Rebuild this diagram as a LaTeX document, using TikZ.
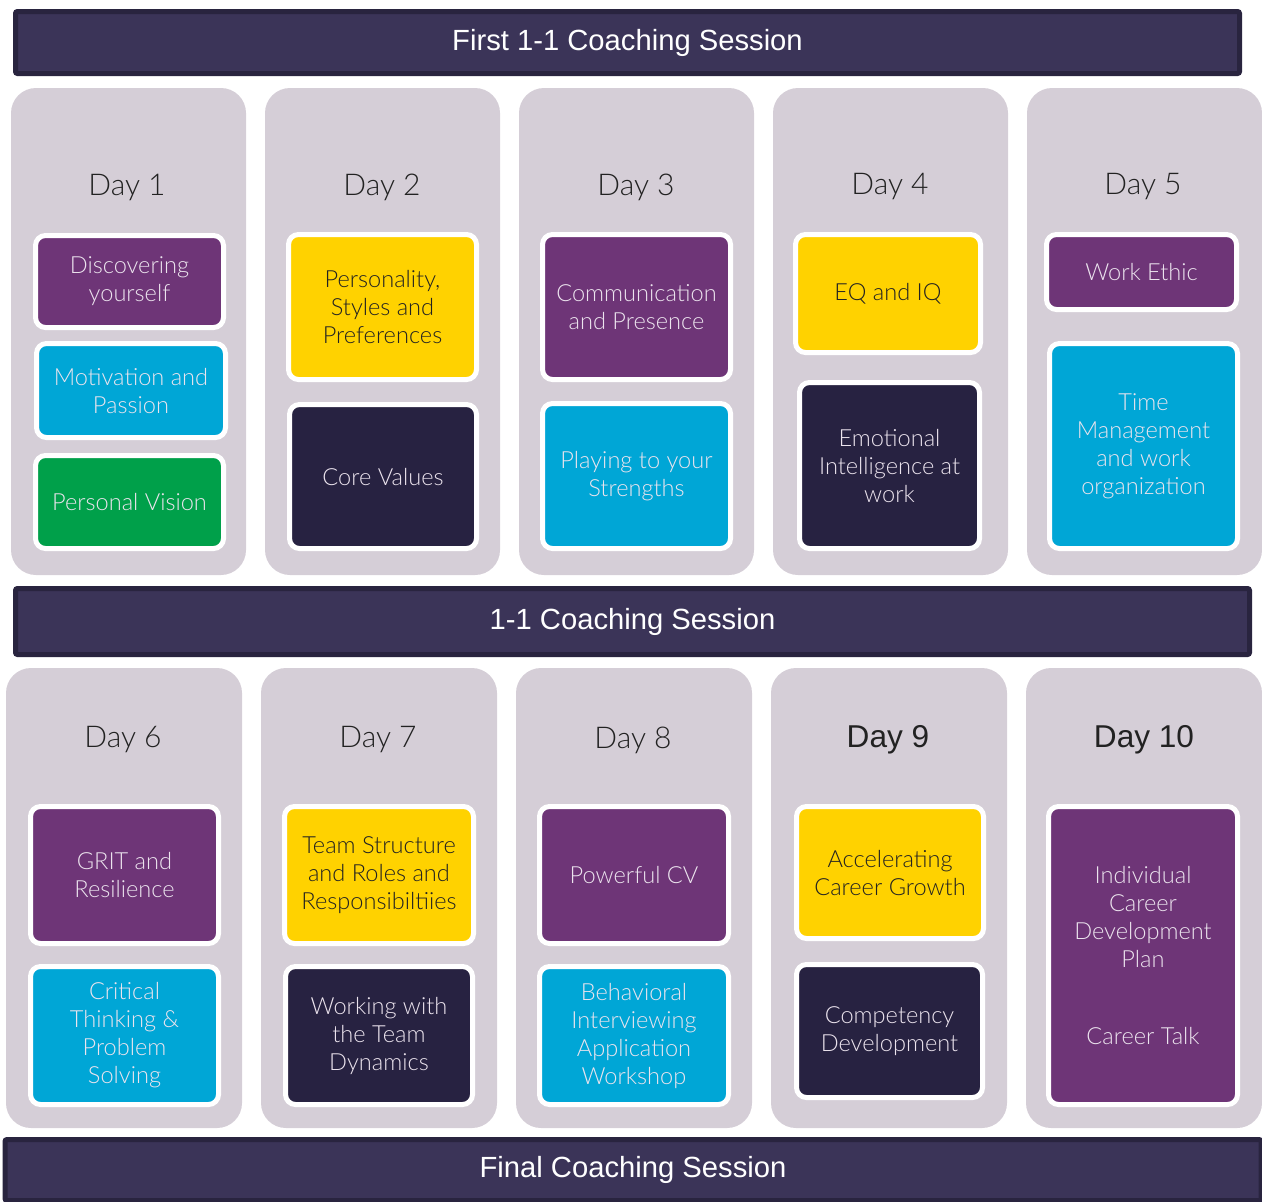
\documentclass[tikz,border=0pt]{standalone}
\usepackage{fontspec}
\setmainfont{Lato Light}
\newfontfamily\arialfont{Liberation Sans}
\usepackage{xcolor}

\definecolor{bannerfill}{HTML}{3B3458}
\definecolor{bannerline}{HTML}{29243F}
\definecolor{panelgray}{HTML}{D5CED7}
\definecolor{topicpurple}{HTML}{6E3577}
\definecolor{topicyellow}{HTML}{FFD200}
\definecolor{topicblue}{HTML}{00A6D6}
\definecolor{topicgreen}{HTML}{00A04A}
\definecolor{topicnavy}{HTML}{272241}
\definecolor{lighttext}{HTML}{ECE4EE}
\definecolor{darktext}{HTML}{222222}

% box between two pixel corners
\newcommand{\topicbox}[7]{%
  \node (#1) at ({(#2+#4)/2},{(#3+#5)/2}) [topic,fill=#6,
    minimum width={(#4-#2)*0.5pt-2.5pt},minimum height={(#5-#3)*0.5pt-2.5pt}] {#7};}
\newcommand{\panelbox}[5]{%
  \node (#1) at ({(#2+#4)/2},{(#3+#5)/2}) [panel,
    minimum width={(#4-#2)*0.5pt},minimum height={(#5-#3)*0.5pt}] {};}

\begin{document}
\begin{tikzpicture}[x=0.5pt,y=-0.5pt,
    banner/.style={rectangle,draw=bannerline,fill=bannerfill,line width=2.5pt,rounded corners=1pt,
      text=white,font=\arialfont\fontsize{14.6}{16}\selectfont,inner sep=0pt},
    panel/.style={rectangle,fill=panelgray,rounded corners=12.5pt,inner sep=0pt},
    daylabel/.style={text=darktext,font=\fontsize{15}{18}\selectfont,inner sep=0pt},
    daybold/.style={daylabel,font=\arialfont\fontsize{15.8}{18}\selectfont},
    topic/.style={rectangle,draw=white,line width=2.5pt,rounded corners=5pt,inner sep=2pt,
      align=center,text=lighttext,font=\fontsize{11.8}{14}\selectfont}]
\useasboundingbox (0,0) rectangle (1262,1201);

% banners
\node (b1) at (627.5,42.5) [banner,minimum width=612pt,minimum height=31pt] {First 1-1 Coaching Session};
\node (b2) at (632.5,621.5) [banner,minimum width=617pt,minimum height=33pt] {1-1 Coaching Session};
\node (b3) at (633,1170) [banner,minimum width=628pt,minimum height=30.5pt] {Final Coaching Session};

% day panels, first week
\panelbox{p1}{11}{88}{246}{575}
\panelbox{p2}{265}{88}{500}{575}
\panelbox{p3}{519}{88}{754}{575}
\panelbox{p4}{773}{88}{1008}{575}
\panelbox{p5}{1027}{88}{1262}{575}
% day panels, second week
\panelbox{p6}{6}{668}{242}{1128}
\panelbox{p7}{261}{668}{497}{1128}
\panelbox{p8}{516}{668}{752}{1128}
\panelbox{p9}{771}{668}{1007}{1128}
\panelbox{p10}{1026}{668}{1262}{1128}

\node (d1) at (127,187) [daylabel] {Day 1};
\node (d2) at (382,187) [daylabel] {Day 2};
\node (d3) at (636,187) [daylabel] {Day 3};
\node (d4) at (890,187) [daylabel] {Day 4};
\node (d5) at (1143,187) [daylabel] {Day 5};
\node (d6) at (123,740) [daylabel] {Day 6};
\node (d7) at (378,740) [daylabel] {Day 7};
\node (d8) at (633,740) [daylabel] {Day 8};
\node (d9) at (888,740) [daybold] {Day 9};
\node (d10) at (1144,740) [daybold] {Day 10};

% topics, first week
\topicbox{t1a}{33}{233}{226}{330}{topicpurple}{Discovering\\yourself}
\topicbox{t1b}{34}{341}{228}{440}{topicblue}{Motivation and\\Passion}
\topicbox{t1c}{33}{453}{226}{551}{topicgreen}{Personal Vision}
\topicbox{t2a}{286}{232}{479}{382}{topicyellow}{\color{darktext}Personality,\\\color{darktext}Styles and\\\color{darktext}Preferences}
\topicbox{t2b}{287}{402}{479}{551}{topicnavy}{Core Values}
\topicbox{t3a}{540}{232}{733}{382}{topicpurple}{Communication\\and Presence}
\topicbox{t3b}{540}{401}{733}{551}{topicblue}{Playing to your\\Strengths}
\topicbox{t4a}{793}{232}{983}{355}{topicyellow}{\color{darktext}EQ and IQ}
\topicbox{t4b}{797}{380}{982}{551}{topicnavy}{Emotional\\Intelligence at\\work}
\topicbox{t5a}{1044}{232}{1239}{312}{topicpurple}{Work Ethic}
\topicbox{t5b}{1047}{341}{1240}{551}{topicblue}{Time\\Management\\and work\\organization}

% topics, second week
\topicbox{t6a}{28}{804}{221}{946}{topicpurple}{GRIT and\\Resilience}
\topicbox{t6b}{28}{964}{221}{1107}{topicblue}{Critical\\Thinking \&\\Problem\\Solving}
\topicbox{t7a}{282}{804}{476}{946}{topicyellow}{\color{darktext}Team Structure\\\color{darktext}and Roles and\\\color{darktext}Responsibiltiies}
\topicbox{t7b}{283}{964}{475}{1107}{topicnavy}{Working with\\the Team\\Dynamics}
\topicbox{t8a}{537}{804}{731}{946}{topicpurple}{Powerful CV}
\topicbox{t8b}{537}{964}{731}{1107}{topicblue}{Behavioral\\Interviewing\\Application\\Workshop}
\topicbox{t9a}{794}{804}{986}{941}{topicyellow}{\color{darktext}Accelerating\\\color{darktext}Career Growth}
\topicbox{t9b}{794}{962}{985}{1100}{topicnavy}{Competency\\Development}
\topicbox{t10a}{1046}{804}{1240}{1107}{topicpurple}{Individual\\Career\\Development\\Plan\\[24.5pt]Career Talk}
\end{tikzpicture}
\end{document}
